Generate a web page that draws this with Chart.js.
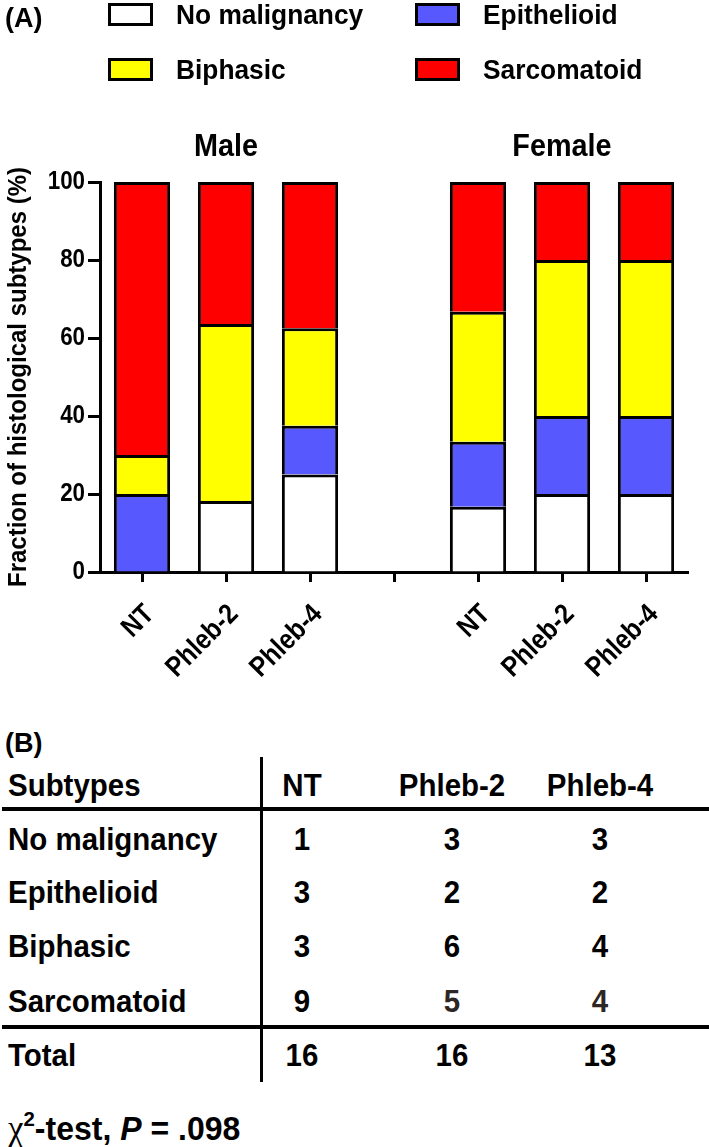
<!DOCTYPE html>
<html>
<head>
<meta charset="utf-8">
<script src="https://cdn.jsdelivr.net/npm/chart.js@4.4.1/dist/chart.umd.min.js"></script>
<style>
html,body{margin:0;padding:0;background:#fff}
body{width:709px;height:1147px;position:relative;overflow:hidden;color:#000;
  font-family:"Liberation Sans",Arial,sans-serif;font-weight:bold}
#wrap{position:absolute;left:0;top:0;width:709px;height:700px}
.t{position:absolute;white-space:nowrap;line-height:1}
.sw{position:absolute;width:39px;height:17px;border:3px solid #000}
.ln{position:absolute;background:#000}
</style>
</head>
<body>
<div id="wrap"><canvas id="c" width="709" height="700"></canvas></div>
<div id="ov"></div>
<script>
// Panel A: stacked fractions (%) per group, spacer slot in the middle
const categories = ['NT','Phleb-2','Phleb-4','','NT','Phleb-2','Phleb-4'];
const groups = ['Male','Female'];
const subtypes = ['No malignancy','Epithelioid','Biphasic','Sarcomatoid'];
const noMalignancy = [0, 18.2, 25, null, 16.7, 20, 20];
const epithelioid  = [20, 0, 12.5, null, 16.7, 20, 20];
const biphasic     = [10, 45.4, 25, null, 33.3, 40, 40];
const sarcomatoid  = [70, 36.4, 37.5, null, 33.3, 20, 20];
const yMax = 100, yStep = 20;

// Panel B: counts table
const tableCols = ['NT','Phleb-2','Phleb-4'];
const countsNT     = [1, 3, 3, 9];
const countsPhleb2 = [3, 2, 6, 5];
const countsPhleb4 = [3, 2, 4, 4];
const totals = [16, 16, 13];
const pValue = '.098';

const fills = ['#ffffff','#5858ff','#ffff00','#ff0000'];
const FONT = '"Liberation Sans",Arial,sans-serif';
const series = [noMalignancy, epithelioid, biphasic, sarcomatoid];

// the figure uses a condensed face; squeeze canvas text horizontally by font size
const SQUEEZE = {28:0.88, 26:0.86, 25:0.96, 32:0.9};
const cv = document.getElementById('c');
const g2 = cv.getContext('2d');
const rawFillText = g2.fillText;
g2.fillText = function(t, x, y){
  const m = /(\d+)px/.exec(this.font);
  const k = m ? (SQUEEZE[m[1]] || 1) : 1;
  this.save(); this.translate(x, y); this.scale(k, 1);
  rawFillText.call(this, t, 0, 0);
  this.restore();
};

const groupTitles = {
  id:'groupTitles',
  afterDraw(chart){
    const x = chart.scales.x, ctx = chart.ctx;
    ctx.save();
    ctx.font = 'bold 32px ' + FONT;
    ctx.fillStyle = '#000'; ctx.textAlign = 'center'; ctx.textBaseline = 'middle';
    groups.forEach((g,i)=>{
      const a = x.getPixelForValue(i*4), b = x.getPixelForValue(i*4+2);
      ctx.fillText(g, (a+b)/2, chart.chartArea.top - 35);
    });
    ctx.restore();
  }
};

new Chart(cv, {
  type:'bar',
  data:{
    labels:categories,
    datasets:series.map((d,i)=>({
      label:subtypes[i], data:d, backgroundColor:fills[i],
      borderColor:'#000', borderWidth:3, borderSkipped:'bottom',
      categoryPercentage:1, barPercentage:0.67
    }))
  },
  options:{
    responsive:false, animation:false,
    layout:{padding:{top:182, right:21, left:0, bottom:0}},
    plugins:{legend:{display:false}, tooltip:{enabled:false}},
    scales:{
      x:{
        stacked:true,
        afterFit(s){ s.height = 128; },
        border:{display:true, width:3, color:'#000'},
        grid:{offset:false, drawOnChartArea:false, drawTicks:true, tickLength:10, tickWidth:3, tickColor:'#000'},
        ticks:{color:'#000', font:{family:FONT, weight:'bold', size:28}, minRotation:45, maxRotation:45,
          autoSkip:false, padding:16, labelOffset:8}
      },
      y:{
        stacked:true, min:0, max:yMax,
        afterFit(s){ s.width = 100; },
        border:{display:true, width:3, color:'#000'},
        grid:{drawOnChartArea:false, drawTicks:true, tickLength:12, tickWidth:3, tickColor:'#000'},
        ticks:{stepSize:yStep, color:'#000', font:{family:FONT, weight:'bold', size:26}, padding:3},
        title:{display:true, text:'Fraction of histological subtypes (%)', color:'#000',
          font:{family:FONT, weight:'bold', size:25}, padding:{top:4, bottom:0}}
      }
    }
  },
  plugins:[groupTitles]
});

// overlay text: panel letters, legend, table
const ov = document.getElementById('ov');
function put(html, x, cy, size, k, align){
  const d = document.createElement('div');
  d.className = 't';
  d.style.fontSize = size + 'px';
  d.innerHTML = html;
  d.style.top = (cy - size*0.49) + 'px';
  d.style.left = x + 'px';
  if(align === 'center'){ d.style.transform = 'translateX(-50%) scaleX(' + k + ')'; }
  else { d.style.transformOrigin = 'left center'; d.style.transform = 'scaleX(' + k + ')'; }
  ov.appendChild(d);
  return d;
}
function line(x, y, w, h){
  const d = document.createElement('div'); d.className = 'ln';
  Object.assign(d.style, {left:x+'px', top:y+'px', width:w+'px', height:h+'px'});
  ov.appendChild(d);
}

put('(A)', 5, 18, 27, 1);
subtypes.forEach((s,i)=>{
  const x = [108,415][i%2], y = [3,58][Math.floor(i/2)];
  const b = document.createElement('div'); b.className = 'sw';
  Object.assign(b.style, {left:x+'px', top:y+'px', background:fills[i]});
  ov.appendChild(b);
  put(s, x+68, y+12, 28, 0.94);
});

put('(B)', 5, 743, 27, 1);
const colX = [302, 452, 600];
const rowY = [839, 892, 946, 1001];
const TS = 31, TK = 0.95;
put('Subtypes', 8, 785, TS, TK);
tableCols.forEach((c,j)=>put(c, colX[j], 785, TS, TK, 'center'));
const cols = [countsNT, countsPhleb2, countsPhleb4];
subtypes.forEach((s,i)=>{
  put(s, 8, rowY[i], TS, TK);
  cols.forEach((c,j)=>{
    const d = put(String(c[i]), colX[j], rowY[i], TS, TK, 'center');
    if(i === 3 && j > 0) d.style.color = '#2e2624';
  });
});
put('Total', 8, 1055, TS, TK);
totals.forEach((t,j)=>put(String(t), colX[j], 1055, TS, TK, 'center'));
line(260, 757, 3, 325);
line(2, 807, 707, 4);
line(2, 1025, 707, 4);
put('<span style="font-weight:normal;font-family:\'Liberation Serif\',serif;font-size:36px">&chi;</span><sup style="font-size:21px;vertical-align:14px">2</sup>-test, <i>P</i> = ' + pValue, 8, 1124, 33, 0.97);
</script>
</body>
</html>
